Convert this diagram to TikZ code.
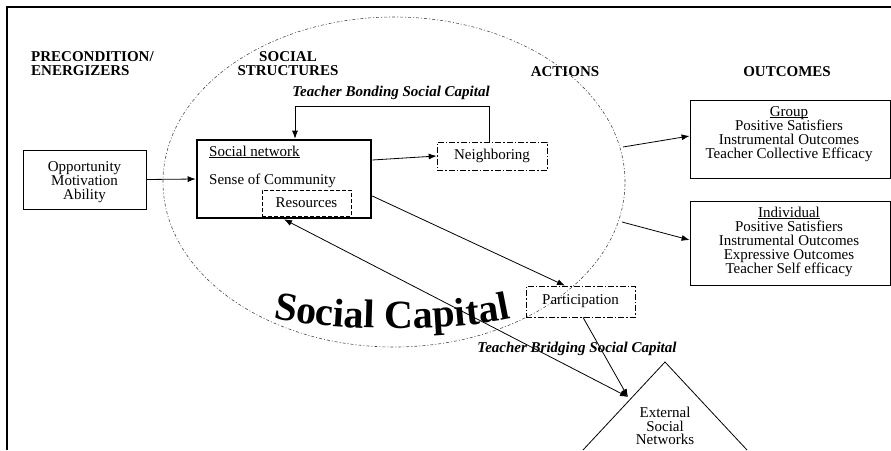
\documentclass[tikz,border=0pt]{standalone}
\usepackage{fontspec}
\setmainfont{Liberation Serif}
\usetikzlibrary{arrows.meta,decorations.text}
\newcommand{\myul}[1]{\setbox0\hbox{#1}\rlap{\rule[-1.6pt]{\wd0}{0.6pt}}\box0}
\begin{document}
\begin{tikzpicture}[x=1pt,y=-1pt,
  txt/.style={font=\fontsize{15}{14}\selectfont, inner sep=0pt, align=center},
  hdr/.style={font=\fontsize{15}{14}\selectfont\bfseries, inner sep=0pt},
  lbl/.style={font=\fontsize{15}{14}\selectfont\bfseries\itshape, inner sep=0pt},
  plainbox/.style={draw, line width=0.8pt, inner sep=0pt, align=center, font=\fontsize{15}{14}\selectfont},
  ddbox/.style={plainbox, line width=0.7pt, dash pattern=on 6pt off 2pt on 1.5pt off 2pt},
  dbox/.style={plainbox, line width=0.7pt, dash pattern=on 4pt off 2pt},
  arr/.style={-{Latex[length=8pt,width=6pt]}, line width=0.8pt},
  darr/.style={{Latex[length=8pt,width=6pt]}-{Latex[length=8pt,width=6pt]}, line width=0.8pt},
  ell/.style={line width=0.6pt, black!70, dash pattern=on 3pt off 2pt on 1pt off 2pt}
]
\useasboundingbox (0,0) rectangle (891,450);
% frame
\draw[line width=1.8pt] (7,450) -- (7,7) -- (891,7);
% social capital ellipse
\draw[ell] (394,182) ellipse [x radius=231pt, y radius=165pt];
% headers
\node[hdr, anchor=west, align=left] (h1) at (31,63.5) {PRECONDITION/\\ENERGIZERS};
\node[hdr, align=center] (h2) at (288,63.5) {SOCIAL\\STRUCTURES};
\node[hdr] (h3) at (565,71.5) {ACTIONS};
\node[hdr] (h4) at (787,72) {OUTCOMES};
\node[lbl] (bond) at (391,93) {Teacher Bonding Social Capital};
\node[lbl] (bridge) at (577,349) {Teacher Bridging Social Capital};
% boxes
\node[plainbox, minimum width=123pt, minimum height=59pt] (opp) at (84.5,179.5) {};
\node[txt] (oppt) at (84.5,182) {Opportunity\\Motivation\\Ability};
\node[draw, line width=2.6pt, minimum width=174pt, minimum height=78pt, inner sep=0pt] (soc) at (284,179) {};
\node[txt, anchor=base west] (sn) at (209,156) {\myul{Social network}};
\node[txt, anchor=base west] (sc) at (209,184) {Sense of Community};
\node[dbox, minimum width=89pt, minimum height=26pt] (res) at (306.5,203) {Resources};
\node[ddbox, minimum width=110pt, minimum height=28pt] (nb) at (492,156) {Neighboring};
\node[ddbox, minimum width=109pt, minimum height=31pt] (part) at (580.5,301.5) {Participation};
\node[plainbox, minimum width=200pt, minimum height=78pt] (grp) at (790,139) {};
\node[txt] (grpt) at (789,134) {\myul{Group}\\Positive Satisfiers\\Instrumental Outcomes\\Teacher Collective Efficacy};
\node[plainbox, minimum width=200pt, minimum height=84pt] (ind) at (790,243) {};
\node[txt] (indt) at (789,241.5) {\myul{Individual}\\Positive Satisfiers\\Instrumental Outcomes\\Expressive Outcomes\\Teacher Self efficacy};
% triangle
\coordinate (tl) at (583,450);
\coordinate (apex) at (665,362);
\coordinate (tr) at (747,450);
\draw[line width=0.8pt] (tl) -- (apex) -- (tr);
\node[txt, font=\fontsize{15}{13.5}\selectfont] (ext) at (665,426) {External\\Social\\Networks};
\coordinate (tri) at (628,397);
% Social Capital curved text
\path[decorate, decoration={text along path, text align=center,
  text={|\fontsize{40}{40}\selectfont\bfseries|Social Capital}}]
  (270,318) .. controls (330,331) and (450,333) .. (514,318);
% connectors
\draw[arr] (opp.east) -- (soc.west);
\draw[arr] ([yshift=19pt]soc.east) -- (nb.west);
\draw[arr] ([xshift=-3pt]nb.north) -- ++(0,-35) -| ([xshift=11pt]soc.north);
\draw[arr] ([yshift=-17pt]soc.east) -- ([xshift=-15.5pt]part.north);
\coordinate (g0) at (623,147);
\coordinate (i0) at (622,222);
\draw[arr] (g0) -- ([yshift=3pt]grp.west);
\draw[arr] (i0) -- ([yshift=3pt]ind.west);
\draw[darr] (soc.south) -- (tri);
\draw[arr] ([xshift=2.5pt]part.south) -- (tri);
\end{tikzpicture}
\end{document}
